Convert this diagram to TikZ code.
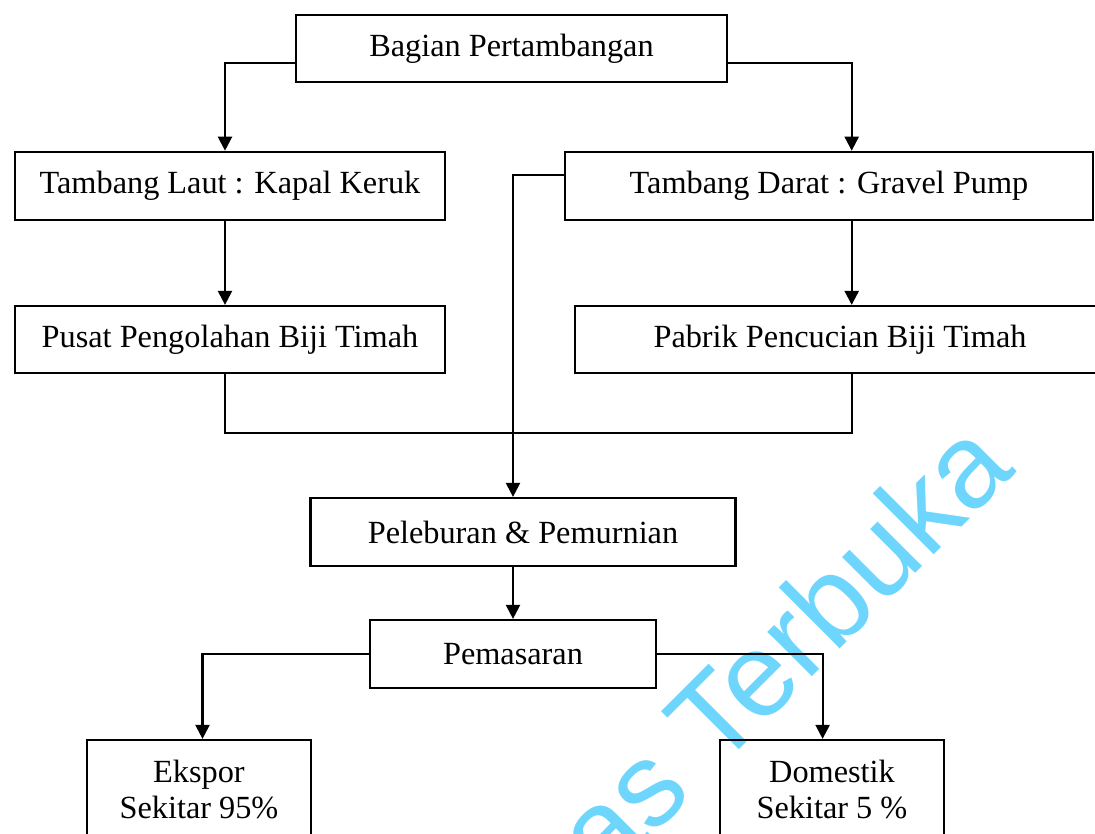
\documentclass[tikz,border=0pt]{standalone}
\usepackage{fontspec}
\setmainfont{Liberation Serif}
\newfontfamily\wmfont{Liberation Sans}
\usetikzlibrary{arrows.meta}
\definecolor{wmcyan}{RGB}{110,214,252}
\begin{document}
\begin{tikzpicture}[x=1pt,y=-1pt,
  box/.style={draw=black, line width=2.2pt, inner sep=0pt, align=center,
    font=\fontsize{32.3}{36}\selectfont},
  conn/.style={draw=black, line width=2.2pt},
  arr/.style={conn, -{Triangle[length=14pt,width=14pt]}}]
\useasboundingbox (0,0) rectangle (1095,834);
\clip (0,0) rectangle (1095,834);
\fill[white] (0,0) rectangle (1095,834);
% watermark
\node[rotate=45, anchor=base east, inner sep=0pt, outer sep=0pt, text=wmcyan,
  font=\wmfont\fontsize{119}{119}\selectfont] (wm) at (1017,472) {as Terbuka};
% boxes
\node[box, minimum width=431, minimum height=67] (bagian) at (511.5,48.3) {Bagian Pertambangan};
\node[box, minimum width=430, minimum height=68] (laut) at (230,185.8) {Tambang Laut : Kapal Keruk};
\node[box, minimum width=528, minimum height=68] (darat) at (829,185.8) {Tambang Darat : Gravel Pump};
\node[box, minimum width=430, minimum height=67] (pusat) at (230,339.5) {Pusat Pengolahan Biji Timah};
\node[box, minimum width=530, minimum height=67] (pabrik) at (840,339.5) {Pabrik Pencucian Biji Timah};
\node[box, minimum width=425, minimum height=68] (lebur) at (523,532) {Peleburan \& Pemurnian};
\node[box, minimum width=286, minimum height=68] (pasar) at (513,654) {Pemasaran};
\node[box, minimum width=224, minimum height=100] (ekspor) at (199,790) {Ekspor\\Sekitar 95\%};
\node[box, minimum width=224, minimum height=100] (domestik) at (832,790) {Domestik\\Sekitar 5 \%};
\coordinate (join) at (530,433);
% connectors
\draw[arr] ([yshift=-15pt]bagian.west) -| ([xshift=-5pt]laut.north);
\draw[arr] ([yshift=-15pt]bagian.east) -| ([xshift=22.7pt]darat.north);
\draw[arr] ([xshift=-5pt]laut.south) -- ([xshift=-5pt]pusat.north);
\draw[arr] ([xshift=22.7pt]darat.south) -- ([xshift=11.7pt]pabrik.north);
\draw[conn] ([xshift=-5pt]pusat.south) |- (join) -| ([xshift=11.7pt]pabrik.south);
\draw[arr] ([yshift=10.8pt]darat.west) -| (pasar.north |- lebur.north);
\draw[arr] (pasar.north |- lebur.south) -- (pasar.north);
\draw[arr] (pasar.west) -| ([xshift=3.5pt]ekspor.north);
\draw[arr] (pasar.east) -| ([xshift=-9.4pt]domestik.north);
\end{tikzpicture}
\end{document}
